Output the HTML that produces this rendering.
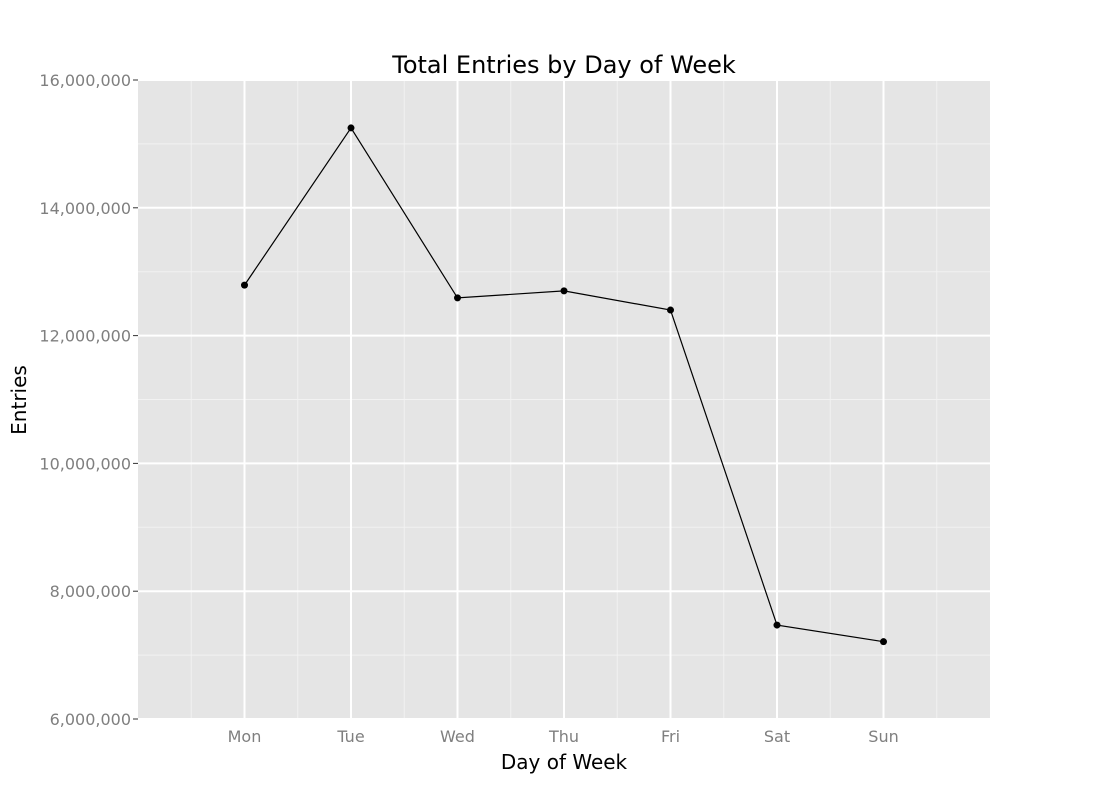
<!DOCTYPE html>
<html><head><meta charset="utf-8">
<style>
html,body{margin:0;padding:0;background:#fff;}
svg{display:block;font-family:"DejaVu Sans","Liberation Sans",sans-serif;}
</style></head>
<body>
<svg id="chart" width="1100" height="800" viewBox="0 0 1100 800"></svg>
<script>
const categories = ["Mon","Tue","Wed","Thu","Fri","Sat","Sun"];
const entries = [12790000,15250000,12590000,12700000,12400000,7470000,7210000];
const yTicks = [6000000,8000000,10000000,12000000,14000000,16000000];
const yTickLabels = ["6,000,000","8,000,000","10,000,000","12,000,000","14,000,000","16,000,000"];

const L=138,R=990,T=80,B=719;
const yMin=6000000,yMax=16000000;
const xS=i=>L+(i+1)*(R-L)/(categories.length+1);
const yS=v=>B-(v-yMin)/(yMax-yMin)*(B-T);
const NS="http://www.w3.org/2000/svg";
const svg=document.getElementById('chart');
function mk(tag,attrs,parent){const e=document.createElementNS(NS,tag);for(const k in attrs)e.setAttribute(k,attrs[k]);(parent||svg).appendChild(e);return e;}

const bg=mk('rect',{x:L,y:T,width:R-L,height:B-T,fill:'#e5e5e5'});



for(let i=0;i<yTicks.length-1;i++){
  const y=yS((yTicks[i]+yTicks[i+1])/2);
  const g=mk('line',{x1:L,x2:R,y1:y,y2:y,stroke:'#f2f2f2','stroke-width':1});
  
  
}
for(let i=-1;i<categories.length;i++){
  const x=(xS(i)+xS(i+1))/2;
  const g=mk('line',{x1:x,x2:x,y1:T,y2:B,stroke:'#f2f2f2','stroke-width':1});
  
  
}
yTicks.forEach((v,i)=>{
  const y=yS(v);
  const g=mk('line',{x1:L,x2:R,y1:y,y2:y,stroke:'#fff','stroke-width':2});
  
  
  const t=mk('line',{x1:L-5,x2:L,y1:y,y2:y,stroke:'#333','stroke-width':1});
  
  
  const lb=mk('text',{x:L-7,y:y+6,'text-anchor':'end','font-size':16,fill:'#7f7f7f'});
  lb.textContent=yTickLabels[i];
  
  
});
categories.forEach((c,i)=>{
  const x=xS(i);
  const g=mk('line',{x1:x,x2:x,y1:T,y2:B,stroke:'#fff','stroke-width':2});
  
  
  const lb=mk('text',{x:x,y:742,'text-anchor':'middle','font-size':16,fill:'#7f7f7f'});
  lb.textContent=c;
  
  
});
const pts=entries.map((v,i)=>xS(i)+','+yS(v)).join(' ');
const line=mk('polyline',{points:pts,fill:'none',stroke:'#000','stroke-width':1.2});


entries.forEach((v,i)=>{
  const p=mk('circle',{cx:xS(i),cy:yS(v),r:3.5,fill:'#000'});
  
  
});
const title=mk('text',{x:564,y:73,'text-anchor':'middle','font-size':24,fill:'#000'});
title.textContent='Total Entries by Day of Week';


const xt=mk('text',{x:564,y:769,'text-anchor':'middle','font-size':20,fill:'#000'});
xt.textContent='Day of Week';


const yt=mk('text',{x:0,y:0,'text-anchor':'middle','font-size':20,fill:'#000',transform:'translate(26,400) rotate(-90)'});
yt.textContent='Entries';


</script>
</body></html>
